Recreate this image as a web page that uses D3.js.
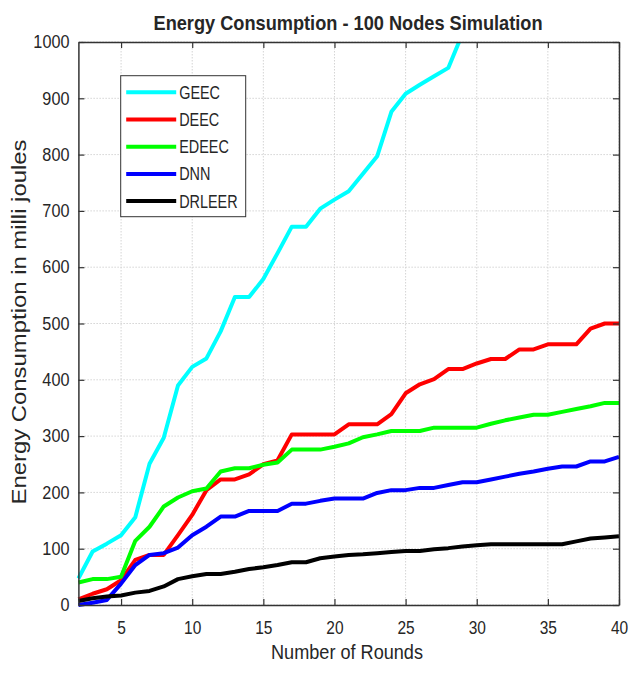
<!DOCTYPE html>
<html>
<head>
<meta charset="utf-8">
<script src="https://cdnjs.cloudflare.com/ajax/libs/d3/7.8.5/d3.min.js"></script>
<style>
    body { margin: 0; background: #fff; }
    text { font-family: Arial, "Liberation Sans", sans-serif; fill: #262626; }
    .grid line { stroke: #d4d4d4; stroke-width: 1; stroke-dasharray: 1.5,1.5; }
    .line { fill: none; stroke-width: 4; stroke-linejoin: round; }
</style>
</head>
<body>
<div id="data"></div>
<script>
// rounds on the x axis
var rounds = [2, 3, 4, 5, 6, 7, 8, 9, 10, 11, 12, 13, 14, 15, 16, 17, 18, 19, 20, 21,
              22, 23, 24, 25, 26, 27, 28, 29, 30, 31, 32, 33, 34, 35, 36, 37, 38, 39, 40];

// energy per protocol (milli joules)
var geec   = [47, 95, 109, 124, 156, 251, 297, 390, 423, 438, 486, 547, 547, 579, 625, 672, 672, 704, 720, 735,
              766, 797, 876, 908, 924, 939, 954, 1015];
var deec   = [10, 20, 28, 44, 80, 89, 89, 124, 160, 204, 223, 223, 232, 250, 257, 303, 303, 303, 303, 321,
              321, 321, 339, 376, 392, 401, 419, 419, 429, 437, 437, 454, 454, 463, 463, 463, 491, 500, 500];
var edeec  = [40, 46, 46, 50, 114, 139, 175, 191, 202, 207, 237, 243, 243, 249, 253, 276, 276, 276, 281, 287,
              298, 303, 309, 309, 309, 315, 315, 315, 315, 322, 328, 333, 338, 338, 343, 348, 353, 359, 359];
var dnn    = [0, 4, 9, 38, 71, 89, 92, 102, 124, 139, 157, 157, 167, 167, 167, 180, 180, 185, 189, 189,
              189, 199, 204, 204, 208, 208, 213, 218, 218, 223, 228, 233, 237, 242, 246, 246, 255, 255, 263];
var drleer = [7, 12, 15, 17, 22, 25, 33, 46, 51, 55, 55, 59, 64, 67, 71, 76, 76, 83, 86, 89,
              90, 92, 94, 96, 96, 99, 101, 104, 106, 108, 108, 108, 108, 108, 108, 113, 118, 120, 122];

var seriesNames  = ["GEEC", "DEEC", "EDEEC", "DNN", "DRLEER"];
var seriesValues = [geec, deec, edeec, dnn, drleer];
var seriesColors = ["#00ffff", "#ff0000", "#00ff00", "#0000ff", "#000000"];

var xTicks = [5, 10, 15, 20, 25, 30, 35, 40];
var yTicks = [0, 100, 200, 300, 400, 500, 600, 700, 800, 900, 1000];

var fullW = 629, fullH = 674;
var margin = {top: 42, right: 10, bottom: 69, left: 78.4};
var width  = fullW - margin.left - margin.right;
var height = fullH - margin.top - margin.bottom;

// squeeze text horizontally, the source picture is narrower than normal Arial
function squeeze(sel, factor) {
    sel.each(function() {
        var len = this.getComputedTextLength();
        d3.select(this)
            .attr("textLength", len * factor)
            .attr("lengthAdjust", "spacingAndGlyphs");
    });
}

var svg = d3.select("#data").append("svg")
    .attr("width", fullW)
    .attr("height", fullH);

var g = svg.append("g")
    .attr("transform", "translate(" + margin.left + "," + margin.top + ")");

var x = d3.scaleLinear().domain([2, 40]).range([0, width]);
var y = d3.scaleLinear().domain([0, 1000]).range([height, 0]);

// grid
g.append("g")
    .attr("class", "grid")
    .selectAll("line")
    .data(xTicks)
    .enter()
    .append("line")
    .attr("x1", function(d) { return x(d); })
    .attr("x2", function(d) { return x(d); })
    .attr("y1", 0)
    .attr("y2", height);

g.append("g")
    .attr("class", "grid")
    .selectAll("line")
    .data(yTicks)
    .enter()
    .append("line")
    .attr("x1", 0)
    .attr("x2", width)
    .attr("y1", function(d) { return y(d); })
    .attr("y2", function(d) { return y(d); });

// lines
g.append("clipPath")
    .attr("id", "clip")
    .append("rect")
    .attr("x", -2)
    .attr("y", 0)
    .attr("width", width + 4)
    .attr("height", height + 4);

var valueline = d3.line()
    .x(function(d) { return x(d.r); })
    .y(function(d) { return y(d.v); });

seriesValues.forEach(function(vals, i) {
    var pts = vals.map(function(v, k) { return {r: rounds[k], v: v}; });
    g.append("path")
        .datum(pts)
        .attr("class", "line")
        .attr("clip-path", "url(#clip)")
        .attr("stroke", seriesColors[i])
        .attr("d", valueline);
});

// axes, box style with inward ticks
var axisColor = "#333";
var xAxis = d3.axisBottom(x).tickValues(xTicks).tickSizeInner(-6).tickSizeOuter(0).tickPadding(16);
var yAxis = d3.axisLeft(y).tickValues(yTicks).tickSizeInner(-6).tickSizeOuter(0).tickPadding(9)
    .tickFormat(d3.format("d"));

var gx = g.append("g")
    .attr("transform", "translate(0," + height + ")")
    .call(xAxis);
var gy = g.append("g").call(yAxis);

g.append("g").call(d3.axisTop(x).tickValues(xTicks).tickSizeInner(-6).tickSizeOuter(0).tickFormat(""));
g.append("g")
    .attr("transform", "translate(" + width + ",0)")
    .call(d3.axisRight(y).tickValues(yTicks).tickSizeInner(-6).tickSizeOuter(0).tickFormat(""));

g.selectAll(".domain").attr("stroke", axisColor).attr("stroke-width", 1.5);
g.selectAll(".tick line").attr("stroke", axisColor).attr("stroke-width", 1.2);

gx.selectAll("text")
    .attr("font-size", 18)
    .attr("fill", "#262626")
    .style("font-family", "Arial, 'Liberation Sans', sans-serif");
gy.selectAll("text")
    .attr("font-size", 18)
    .attr("fill", "#262626")
    .style("font-family", "Arial, 'Liberation Sans', sans-serif");
squeeze(gx.selectAll("text"), 0.86);
squeeze(gy.selectAll("text"), 0.9);

// title and axis labels
var title = svg.append("text")
    .attr("x", 348)
    .attr("y", 30)
    .attr("text-anchor", "middle")
    .attr("font-size", 21)
    .attr("font-weight", "bold")
    .attr("fill", "#000")
    .text("Energy Consumption - 100 Nodes Simulation");
title.attr("textLength", 389).attr("lengthAdjust", "spacingAndGlyphs");

svg.append("text")
    .attr("x", 347)
    .attr("y", 659)
    .attr("text-anchor", "middle")
    .attr("font-size", 21)
    .text("Number of Rounds")
    .attr("textLength", 152)
    .attr("lengthAdjust", "spacingAndGlyphs");

svg.append("text")
    .attr("transform", "translate(26,322) rotate(-90)")
    .attr("text-anchor", "middle")
    .attr("font-size", 20)
    .text("Energy Consumption in milli joules")
    .attr("textLength", 365)
    .attr("lengthAdjust", "spacingAndGlyphs");

// legend
var legend = svg.append("g").attr("transform", "translate(120.7,75.7)");

legend.append("rect")
    .attr("width", 125)
    .attr("height", 141)
    .attr("fill", "#fff")
    .attr("stroke", "#333")
    .attr("stroke-width", 1);

var items = legend.selectAll(".item")
    .data(seriesNames)
    .enter()
    .append("g")
    .attr("class", "item")
    .attr("transform", function(d, i) { return "translate(0," + (16.6 + i * 27.2) + ")"; });

items.append("line")
    .attr("x1", 5.5)
    .attr("x2", 55.5)
    .attr("stroke-width", 4)
    .attr("stroke", function(d, i) { return seriesColors[i]; });

var legText = items.append("text")
    .attr("x", 58.5)
    .attr("dy", "0.36em")
    .attr("font-size", 18)
    .attr("fill", "#000")
    .text(function(d) { return d; });
squeeze(legText, 0.8);
</script>
</body>
</html>
